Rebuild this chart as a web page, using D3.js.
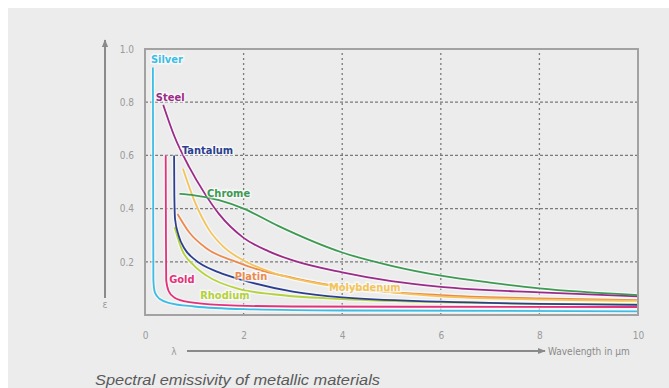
<!DOCTYPE html>
<html>
<head>
<meta charset="utf-8">
<script src="https://cdn.jsdelivr.net/npm/d3@7"></script>
<style>
    html, body { margin: 0; padding: 0; background: #ffffff; }
    #chart { width: 669px; height: 388px; }
    svg { display: block; }
</style>
</head>
<body>
<div id="chart"><svg></svg></div>
<script>
// wavelength (µm) / emissivity pairs
const silver = [[0.16, 0.93], [0.165, 0.5], [0.17, 0.13], [0.2, 0.085], [0.3, 0.06], [0.5, 0.045], [1.0, 0.032], [2, 0.022], [4, 0.017], [10, 0.014]];
const gold = [[0.42, 0.6], [0.425, 0.3], [0.43, 0.13], [0.48, 0.09], [0.6, 0.065], [0.9, 0.048], [1.5, 0.038], [3, 0.032], [10, 0.03]];
const steel = [[0.37, 0.79], [0.6, 0.67], [0.9, 0.555], [1.2, 0.46], [1.5, 0.38], [2, 0.29], [2.5, 0.24], [3, 0.205], [4, 0.16], [5, 0.127], [6, 0.106], [8, 0.085], [10, 0.07]];
const tantalum = [[0.59, 0.6], [0.595, 0.45], [0.61, 0.36], [0.68, 0.3], [0.8, 0.25], [1.0, 0.21], [1.5, 0.16], [2, 0.13], [3, 0.088], [4, 0.066], [6, 0.05], [8, 0.042], [10, 0.038]];
const chrome = [[0.7, 0.455], [1.0, 0.45], [1.5, 0.432], [2, 0.4], [2.7, 0.335], [4, 0.235], [5, 0.185], [6, 0.148], [7, 0.122], [8, 0.1], [10, 0.075]];
const molybdenum = [[0.77, 0.55], [1.0, 0.43], [1.3, 0.32], [1.6, 0.255], [2, 0.205], [2.6, 0.158], [3.7, 0.112], [5, 0.085], [6, 0.07], [8, 0.058], [10, 0.053]];
const platin = [[0.66, 0.38], [0.9, 0.31], [1.25, 0.25], [1.85, 0.2], [2.5, 0.16], [3, 0.14], [4, 0.105], [6, 0.075], [8, 0.062], [10, 0.056]];
const rhodium = [[0.6, 0.33], [0.75, 0.245], [1.0, 0.185], [1.25, 0.148], [1.9, 0.098], [2.6, 0.078], [4, 0.06], [6, 0.048], [10, 0.04]];

// label anchors: wavelength, emissivity of the text baseline
const labelNames = ['Silver', 'Steel', 'Tantalum', 'Chrome', 'Gold', 'Platin', 'Rhodium', 'Molybdenum'];
const labelAt = [[0.12, 0.947], [0.22, 0.805], [0.75, 0.605], [1.26, 0.444], [0.49, 0.12], [1.82, 0.132], [1.12, 0.06], [3.73, 0.09]];

const xTicks = [0, 2, 4, 6, 8, 10];
const yTicks = [0.2, 0.4, 0.6, 0.8, 1.0];
const yGrid = [0.2, 0.4, 0.6, 0.8];
const xGrid = [2, 4, 6, 8];

const seriesList = [
    { name: 'Silver', data: silver, color: '#3cbde6' },
    { name: 'Gold', data: gold, color: '#e5307a' },
    { name: 'Rhodium', data: rhodium, color: '#b4d23a' },
    { name: 'Platin', data: platin, color: '#ec8a4e' },
    { name: 'Molybdenum', data: molybdenum, color: '#f3c45a' },
    { name: 'Tantalum', data: tantalum, color: '#2c3f8f' },
    { name: 'Steel', data: steel, color: '#9b2a88' },
    { name: 'Chrome', data: chrome, color: '#3c9a52' }
];

const condensed = '"DejaVu Sans Condensed", "Liberation Sans Narrow", sans-serif';

class EmissivityChart {
    constructor(canvas) {
        this.canvas = canvas;
        this.width = 669;
        this.height = 388;
    }

    render() {
        this.svg = d3.select(this.canvas).select('svg')
            .attr('width', this.width)
            .attr('height', this.height);

        this.svg.append('rect')
            .attr('x', 8).attr('y', 8)
            .attr('width', this.width - 8).attr('height', this.height - 8)
            .attr('fill', '#ececec');

        this.xScale = d3.scaleLinear().domain([0, 10]).range([145, 638]);
        this.yScale = d3.scaleLinear().domain([0, 1]).range([315, 49]);

        this.renderGrid();
        this.renderCurves();
        this.renderFrame();
        this.renderAxis();
        this.renderLabels();
        this.renderArrows();
    }

    renderGrid() {
        const g = this.svg.append('g').attr('class', 'grid');
        g.selectAll('line.h').data(yGrid).enter().append('line')
            .attr('class', 'h')
            .attr('x1', this.xScale(0)).attr('x2', this.xScale(10))
            .attr('y1', d => this.yScale(d)).attr('y2', d => this.yScale(d))
            .attr('stroke', '#7a7a7a').attr('stroke-width', 1.3)
            .attr('stroke-dasharray', '3,2');
        g.selectAll('line.v').data(xGrid).enter().append('line')
            .attr('class', 'v')
            .attr('y1', this.yScale(0)).attr('y2', this.yScale(1))
            .attr('x1', d => this.xScale(d)).attr('x2', d => this.xScale(d))
            .attr('stroke', '#7a7a7a').attr('stroke-width', 1.3)
            .attr('stroke-dasharray', '2,3');
    }

    renderCurves() {
        const line = d3.line()
            .x(d => this.xScale(d[0]))
            .y(d => this.yScale(d[1]))
            .curve(d3.curveMonotoneX);
        const g = this.svg.append('g').attr('class', 'curves');
        g.selectAll('path.halo').data(seriesList).enter().append('path')
            .attr('class', 'halo')
            .attr('d', d => line(d.data))
            .attr('fill', 'none').attr('stroke', '#ffffff')
            .attr('stroke-opacity', 0.55).attr('stroke-width', 4.5);
        g.selectAll('path.curve').data(seriesList).enter().append('path')
            .attr('class', 'curve')
            .attr('d', d => line(d.data))
            .attr('fill', 'none')
            .attr('stroke', d => d.color)
            .attr('stroke-width', 1.8);
    }

    renderFrame() {
        this.svg.append('rect')
            .attr('x', this.xScale(0)).attr('y', this.yScale(1))
            .attr('width', this.xScale(10) - this.xScale(0))
            .attr('height', this.yScale(0) - this.yScale(1))
            .attr('fill', 'none').attr('stroke', '#a2a2a2').attr('stroke-width', 2);
    }

    renderAxis() {
        const yAxis = this.svg.append('g')
            .attr('transform', `translate(${this.xScale(0) - 8}, 0)`)
            .call(d3.axisLeft(this.yScale).tickValues(yTicks).tickSize(0).tickFormat(d3.format('.1f')));
        yAxis.select('.domain').remove();
        yAxis.selectAll('text')
            .attr('fill', '#9a9a9a').attr('font-size', 10).attr('font-family', condensed);

        const xAxis = this.svg.append('g')
            .attr('transform', `translate(0, ${this.yScale(0) + 14})`)
            .call(d3.axisBottom(this.xScale).tickValues(xTicks).tickSize(0).tickFormat(d3.format('d')));
        xAxis.select('.domain').remove();
        xAxis.selectAll('text')
            .attr('fill', '#9a9a9a').attr('font-size', 10).attr('font-family', condensed);
    }

    renderLabels() {
        const colorOf = {};
        seriesList.forEach(s => { colorOf[s.name] = s.color; });
        const g = this.svg.append('g').attr('class', 'labels')
            .attr('font-family', condensed)
            .attr('font-weight', 'bold').attr('font-size', 11);
        const items = labelNames.map((n, i) => ({ name: n, at: labelAt[i] }));
        g.selectAll('text.halo').data(items).enter().append('text')
            .attr('class', 'halo')
            .attr('x', d => this.xScale(d.at[0])).attr('y', d => this.yScale(d.at[1]))
            .attr('stroke', '#ffffff').attr('stroke-opacity', 0.6).attr('stroke-width', 3)
            .attr('fill', 'none').text(d => d.name);
        g.selectAll('text.lbl').data(items).enter().append('text')
            .attr('class', 'lbl')
            .attr('x', d => this.xScale(d.at[0])).attr('y', d => this.yScale(d.at[1]))
            .attr('fill', d => colorOf[d.name]).text(d => d.name);
    }

    renderArrows() {
        const defs = this.svg.append('defs');
        defs.append('marker')
            .attr('id', 'arrow').attr('viewBox', '0 0 10 10')
            .attr('refX', 9).attr('refY', 5)
            .attr('markerWidth', 4).attr('markerHeight', 4)
            .attr('orient', 'auto')
            .append('path').attr('d', 'M0,1L10,5L0,9z').attr('fill', '#8a8a8a');

        this.svg.append('line')
            .attr('x1', 105).attr('x2', 105).attr('y1', 298).attr('y2', 40)
            .attr('stroke', '#8a8a8a').attr('stroke-width', 2)
            .attr('marker-end', 'url(#arrow)');
        this.svg.append('text')
            .attr('x', 105).attr('y', 308).attr('text-anchor', 'middle')
            .attr('fill', '#9a9a9a').attr('font-size', 10).attr('font-family', condensed)
            .text('ε');

        this.svg.append('line')
            .attr('x1', 187).attr('x2', 545).attr('y1', 351).attr('y2', 351)
            .attr('stroke', '#8a8a8a').attr('stroke-width', 2)
            .attr('marker-end', 'url(#arrow)');
        this.svg.append('text')
            .attr('x', 174).attr('y', 355).attr('text-anchor', 'middle')
            .attr('fill', '#9a9a9a').attr('font-size', 10).attr('font-family', condensed)
            .text('λ');
        this.svg.append('text')
            .attr('x', 548).attr('y', 355)
            .attr('fill', '#8a8a8a').attr('font-size', 10).attr('font-family', condensed)
            .text('Wavelength in µm');

        this.svg.append('text')
            .attr('x', 95).attr('y', 385)
            .attr('fill', '#5a5a5a').attr('font-size', 14).attr('font-style', 'italic')
            .attr('font-family', '"Liberation Sans", Arial, sans-serif')
            .attr('textLength', 285).attr('lengthAdjust', 'spacingAndGlyphs')
            .text('Spectral emissivity of metallic materials');
    }
}

const chart = new EmissivityChart(document.getElementById('chart'));
chart.render();
</script>
</body>
</html>
